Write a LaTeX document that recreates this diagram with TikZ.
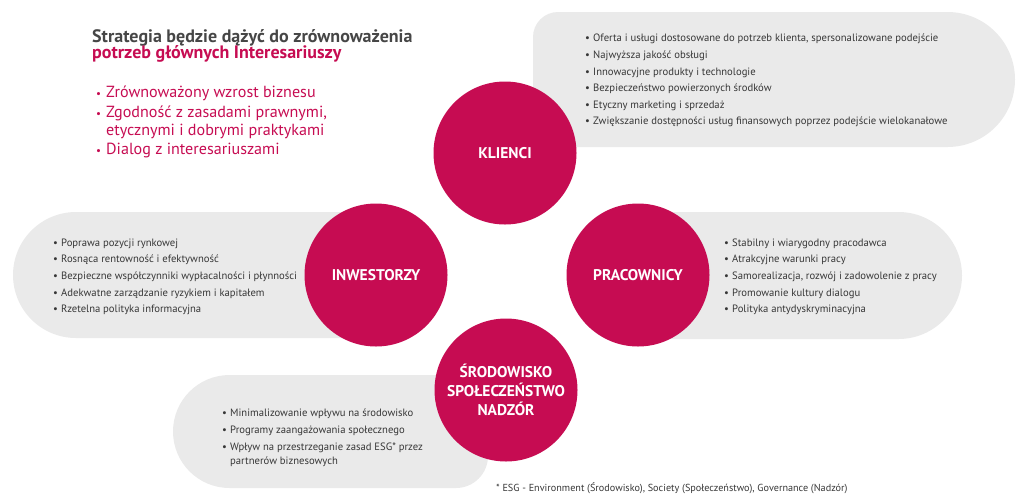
\documentclass[tikz,border=0pt]{standalone}
\usepackage{fontspec}
\setmainfont{PT Sans}
\definecolor{stakered}{RGB}{198,12,82}
\definecolor{palegrey}{RGB}{234,234,234}
\definecolor{darktext}{RGB}{55,55,55}
\definecolor{titlegrey}{RGB}{70,70,70}
\newcommand{\itm}{\makebox[8pt][l]{\textbullet}}
\newcommand{\bigitm}{\makebox[10pt][l]{\fontsize{11}{11}\selectfont\textbullet}}
\tikzset{
  groupcircle/.style={circle, fill=stakered, text=white, minimum size=143pt,
                      inner sep=0pt, align=center,
                      font=\fontsize{15.5}{19}\selectfont\bfseries},
  pill/.style={fill=palegrey},
  itemlist/.style={anchor=north west, inner sep=0pt, align=left, text=darktext,
                   font=\fontsize{10.65}{16.6}\selectfont},
  goallist/.style={anchor=north west, inner sep=0pt, align=left, text=stakered,
                   font=\fontsize{16.1}{19.5}\selectfont},
  headline/.style={anchor=north west, inner sep=0pt, align=left,
                   font=\fontsize{18}{16.8}\selectfont\bfseries},
  footnote/.style={anchor=base west, inner sep=0pt, text=darktext,
                   font=\fontsize{10.2}{12}\selectfont}
}

\begin{document}
\begin{tikzpicture}[x=1pt, y=-1pt]
  \useasboundingbox (0,0) rectangle (1024,499);

  % grey pills behind the circles
  \fill[pill] (533,147) [rounded corners=25] -- (533,12)
    [rounded corners=67.5] -- (1015,12) -- (1015,147) [sharp corners] -- cycle;
  \fill[pill] (376,212) [rounded corners=63] -- (13,212) -- (13,338)
    [sharp corners] -- (376,338) -- cycle;
  \fill[pill] (637,212) [rounded corners=63.5] -- (962,212) -- (962,339)
    [sharp corners] -- (637,339) -- cycle;
  \fill[pill] (488,375) [rounded corners=56.5] -- (173,375) -- (173,488)
    [rounded corners=32] -- (488,488) [sharp corners] -- cycle;

  % headline
  \node[headline] (title) at (92,28.9)
    {\textcolor{titlegrey}{Strategia będzie dążyć do zrównoważenia}\\
     \textcolor{stakered}{potrzeb głównych Interesariuszy}};
  \node[goallist] (goals) at (96,85.8)
    {\bigitm Zrównoważony wzrost biznesu\\
     \bigitm Zgodność z zasadami prawnymi,\\[-1.5pt]
     \hspace*{10pt}etycznymi i dobrymi praktykami\\
     \bigitm Dialog z interesariuszami};

  % stakeholder groups
  \node[groupcircle] (klienci) at (505,153) {KLIENCI};
  \node[groupcircle] (inwestorzy) at (376,275) {INWESTORZY};
  \node[groupcircle] (pracownicy) at (638,275) {PRACOWNICY};
  \node[groupcircle] (srodowisko) at (506,390)
    {ŚRODOWISKO\\SPOŁECZEŃSTWO\\NADZÓR};

  % expectations
  \node[itemlist] (klienciList) at (585,34)
    {\itm Oferta i usługi dostosowane do potrzeb klienta, spersonalizowane podejście\\
     \itm Najwyższa jakość obsługi\\
     \itm Innowacyjne produkty i technologie\\
     \itm Bezpieczeństwo powierzonych środków\\
     \itm Etyczny marketing i sprzedaż\\
     \itm Zwiększanie dostępności usług finansowych poprzez podejście wielokanałowe};
  \node[itemlist] (inwestorzyList) at (53,238.5)
    {\itm Poprawa pozycji rynkowej\\
     \itm Rosnąca rentowność i efektywność\\
     \itm Bezpieczne współczynniki wypłacalności i płynności\\
     \itm Adekwatne zarządzanie ryzykiem i kapitałem\\
     \itm Rzetelna polityka informacyjna};
  \node[itemlist] (pracownicyList) at (724,238.5)
    {\itm Stabilny i wiarygodny pracodawca\\
     \itm Atrakcyjne warunki pracy\\
     \itm Samorealizacja, rozwój i zadowolenie z pracy\\
     \itm Promowanie kultury dialogu\\
     \itm Polityka antydyskryminacyjna};
  \node[itemlist, font=\fontsize{10.65}{17}\selectfont] (srodowiskoList) at (222,408.5)
    {\itm Minimalizowanie wpływu na środowisko\\
     \itm Programy zaangażowania społecznego\\
     \itm Wpływ na przestrzeganie zasad ESG* przez\\[-3pt]
     \hspace*{8pt}partnerów biznesowych};

  \node[footnote] (esg) at (496,491.5)
    {* ESG - Environment (Środowisko), Society (Społeczeństwo), Governance (Nadzór)};
\end{tikzpicture}
\end{document}
